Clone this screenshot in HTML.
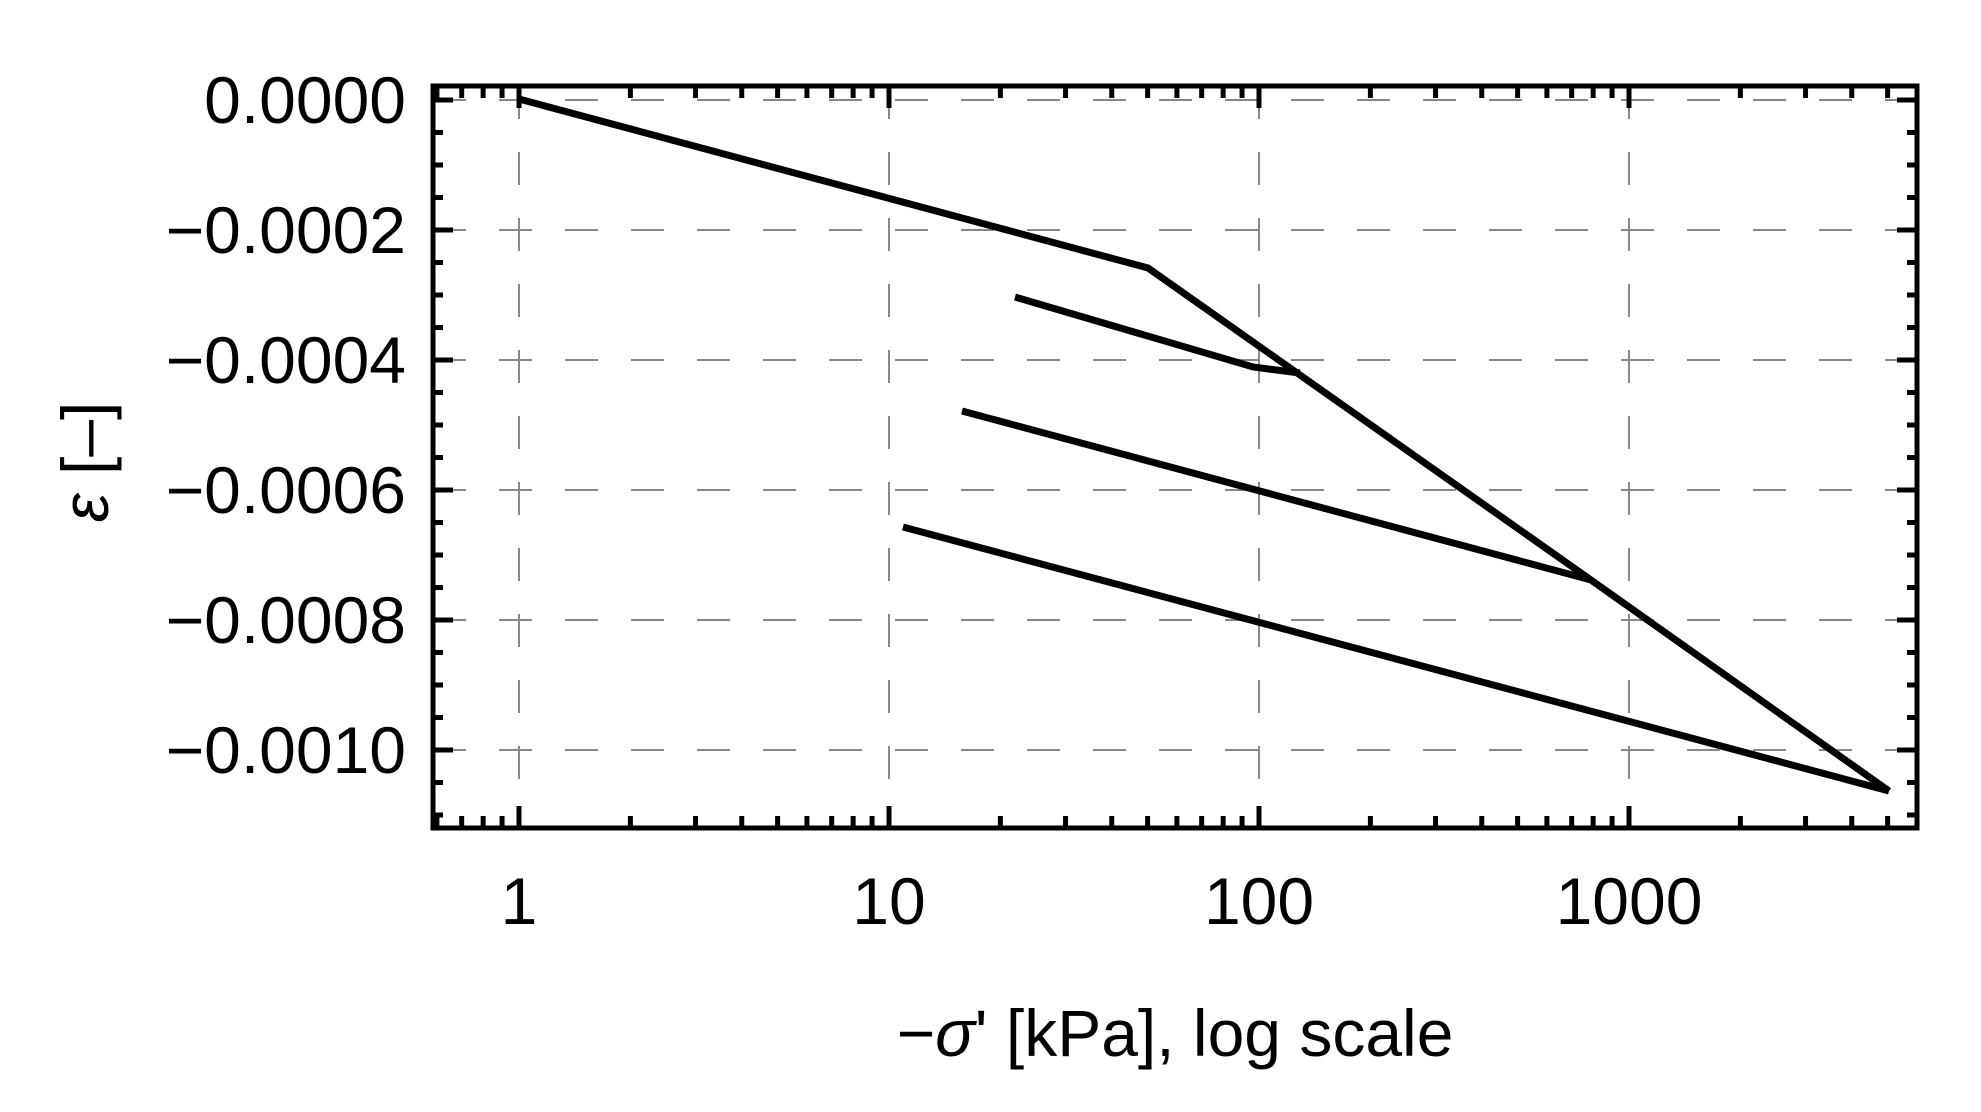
<!DOCTYPE html>
<html><head><meta charset="utf-8"><style>
html,body{margin:0;padding:0;background:#fff;}
svg{display:block}
text{font-family:"Liberation Sans",sans-serif;fill:#000}
</style></head><body>
<svg id="s" width="1981" height="1112" viewBox="0 0 1981 1112" xmlns="http://www.w3.org/2000/svg">
<g id="grid" stroke="#888" stroke-width="2" stroke-dasharray="33,33" fill="none"></g>
<g id="ticks" stroke="#000" stroke-width="5" fill="none"></g>
<g stroke="#000" stroke-width="7" fill="none" stroke-linejoin="miter">
<polyline points="519,99 1148,268 1317,387 1591,580 1889,791"/>
<polyline points="1015,297 1253,367 1300,373"/>
<polyline points="962,411 1591,580"/>
<polyline points="903,527 1889,791"/>
</g>
<rect x="433" y="86" width="1484" height="742" fill="none" stroke="#000" stroke-width="5"/>
<g id="labels" font-size="66"></g>
<text x="1175" y="1056" font-size="66" text-anchor="middle">−<tspan font-style="italic">σ</tspan>' [kPa], log scale</text>
<text transform="translate(108,462) rotate(-90)" font-size="66" text-anchor="middle"><tspan font-style="italic">ε</tspan> [–]</text>
</svg>
<script>
var ns="http://www.w3.org/2000/svg";
function el(p,t,a,txt){var e=document.createElementNS(ns,t);for(var k in a)e.setAttribute(k,a[k]);if(txt)e.textContent=txt;document.getElementById(p).appendChild(e);}
function X(v){return 519+370*Math.log10(v);}
function Y(v){return 100-v*650000;}
var L=433,R=1917,T=86,B=828;
for(var d=0;d<4;d++){var x=X(Math.pow(10,d));el("grid","line",{x1:x,y1:T,x2:x,y2:B});}
for(var i=0;i<=5;i++){var y=Y(-0.0002*i);el("grid","line",{x1:L,y1:y,x2:R,y2:y});}
for(var d=-1;d<4;d++){for(var m=1;m<10;m++){var v=m*Math.pow(10,d);var x=X(v);if(x<L+3||x>R-3)continue;var len=m==1?22:12;
el("ticks","line",{x1:x,y1:B,x2:x,y2:B-len});el("ticks","line",{x1:x,y1:T,x2:x,y2:T+len});}}
for(var i=0;i<=22;i++){var v=-0.00005*i;var y=Y(v);if(y<T+2||y>B-2)continue;var len=(i%4==0)?20:10;
el("ticks","line",{x1:L,y1:y,x2:L+len,y2:y});el("ticks","line",{x1:R,y1:y,x2:R-len,y2:y});}
var yl=["0.0000","−0.0002","−0.0004","−0.0006","−0.0008","−0.0010"];
for(var i=0;i<6;i++)el("labels","text",{x:406,y:Y(-0.0002*i)+23,"text-anchor":"end"},yl[i]);
var xl=["1","10","100","1000"];
for(var d=0;d<4;d++)el("labels","text",{x:X(Math.pow(10,d)),y:924,"text-anchor":"middle"},xl[d]);
</script>
</body></html>
